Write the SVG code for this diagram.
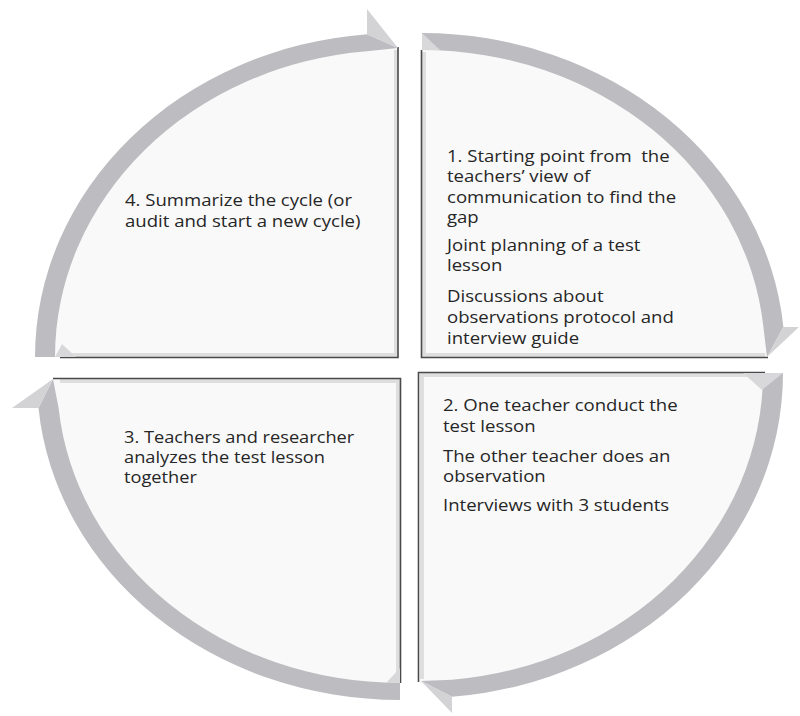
<svg xmlns="http://www.w3.org/2000/svg" width="800" height="716" viewBox="0 0 800 716">
<defs>
<style>
.fill{fill:#f9f9f9}
.band{fill:#bdbdc1}
.head{fill:#d3d3d6}
.tail{fill:#d8d8db}
.edge{stroke:#4a4a4a;stroke-width:1.6;fill:none}
.bevel{stroke:#dedede;stroke-width:4;fill:none}
.t{font-family:"Open Sans","DejaVu Sans",sans-serif;font-size:16px;fill:#262626}
</style>
</defs>
<rect width="800" height="716" fill="#ffffff"/>

<g id="q4">
<path class="fill" d="M398 357 L52 357 A346 310 0 0 1 398 47 Z"/>
<path class="bevel" d="M396 50 L396 355 L60 355"/>
<path class="edge" d="M398 47 L398 357.5 L60 357.5"/>
<path class="band" d="M35 357 A363 324 0 0 1 367 34.2 L398 48 L367 51.3 A343 307 0 0 0 55 357 Z"/>
<path class="head" d="M367 34.2 L367 9 L398 48 Z"/>
<path class="tail" d="M55 357 L76 357 L62 344 Z"/>
<g transform="translate(125,0) scale(1.16,1)">
<text class="t" x="0" y="206.5">4. Summarize the cycle (or</text>
<text class="t" x="0" y="226.7">audit and start a new cycle)</text>
</g>
</g>

<g id="q1">
<path class="fill" d="M422 357 L422 47 A346 310 0 0 1 768 357 Z"/>
<path class="bevel" d="M424 52 L424 355 L765 355"/>
<path class="edge" d="M421.5 50 L421.5 357.5 L768 357.5"/>
<path class="band" d="M422 33 A363 324 0 0 1 783.4 327 L767 357 L763.4 327 A343 307 0 0 0 422 50 Z"/>
<path class="head" d="M783.4 327 L799 327 L767 357 Z"/>
<path class="tail" d="M422 33 L440 50 L422 50 Z"/>
<g transform="translate(447,0) scale(1.16,1)">
<text class="t" x="0" y="162">1. Starting point from&#160; the</text>
<text class="t" x="0" y="182.5">teachers’ view of</text>
<text class="t" x="0" y="203">communication to find the</text>
<text class="t" x="0" y="223.5">gap</text>
<text class="t" x="0" y="251">Joint planning of a test</text>
<text class="t" x="0" y="271.5">lesson</text>
<text class="t" x="0" y="302.5">Discussions about</text>
<text class="t" x="0" y="323.5">observations protocol and</text>
<text class="t" x="0" y="344.5">interview guide</text>
</g>
</g>

<g id="q2">
<path class="fill" d="M420 373 L766 373 A346 311 0 0 1 420 684 Z"/>
<path class="bevel" d="M422 679 L422 375 L761 375"/>
<path class="edge" d="M418.5 682 L418.5 372.5 L765 372.5"/>
<path class="band" d="M783 373 A363 325 0 0 1 452 696.7 L421 681 L452 679.7 A343 308 0 0 0 763 373 Z"/>
<path class="head" d="M452 696.7 L452 713 L421 681 Z"/>
<path class="tail" d="M743 373 L783 373 L762 390 Z"/>
<g transform="translate(443,0) scale(1.16,1)">
<text class="t" x="0" y="411">2. One teacher conduct the</text>
<text class="t" x="0" y="432">test lesson</text>
<text class="t" x="0" y="462">The other teacher does an</text>
<text class="t" x="0" y="482.5">observation</text>
<text class="t" x="0" y="511">Interviews with 3 students</text>
</g>
</g>

<g id="q3">
<path class="fill" d="M400 379 L400 686 A346 307 0 0 1 54 379 Z"/>
<path class="bevel" d="M398 681 L398 381 L60 381"/>
<path class="edge" d="M400.5 683 L400.5 378.5 L53 378.5"/>
<path class="band" d="M400 700 A363 321 0 0 1 38.5 408 L53 379 L58.6 408 A343 304 0 0 0 400 683 Z"/>
<path class="head" d="M38.5 408 L12 408 L53 379 Z"/>
<path class="tail" d="M400 683 L400 668 L386 683 Z"/>
<g transform="translate(124,0) scale(1.14,1)">
<text class="t" x="0" y="443.3">3. Teachers and researcher</text>
<text class="t" x="0" y="463">analyzes the test lesson</text>
<text class="t" x="0" y="483">together</text>
</g>
</g>
</svg>
